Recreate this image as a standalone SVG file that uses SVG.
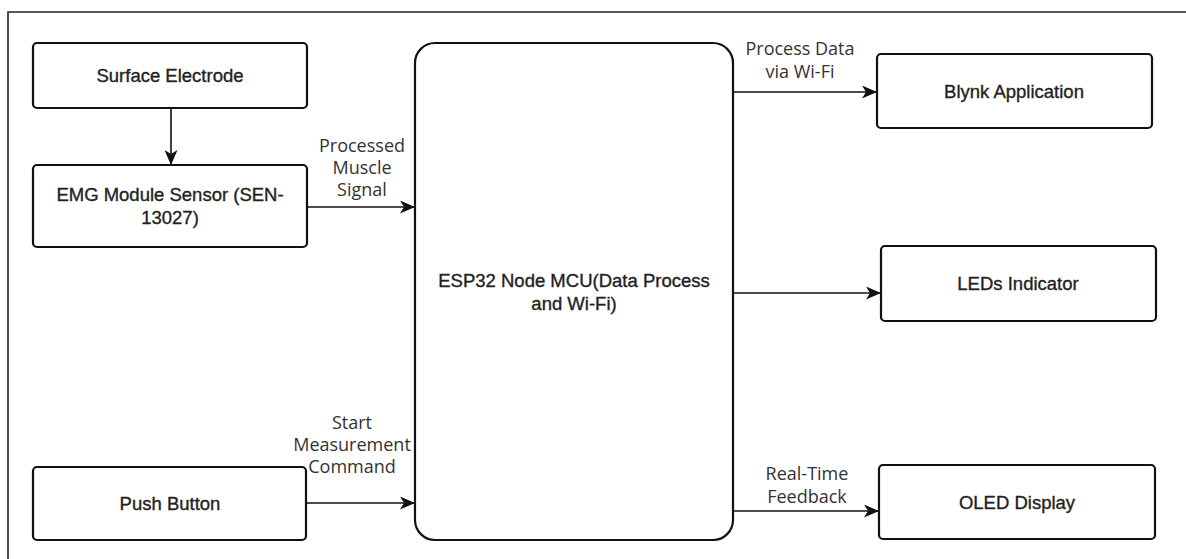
<svg xmlns="http://www.w3.org/2000/svg" width="1186" height="559" viewBox="0 0 1186 559">
<style>
.box{fill:#fff;stroke:#111;stroke-width:2.2}
.nt{font-family:"Liberation Sans",Arial,sans-serif;font-size:18.5px;fill:#222;stroke:#222;stroke-width:0.35;text-anchor:middle}
.lb{font-family:"Open Sans","Noto Sans",sans-serif;font-size:18px;fill:#333;text-anchor:middle}
.ln{stroke:#111;stroke-width:1.6;fill:none}
</style>
<defs>
<marker id="ar" markerWidth="15" markerHeight="13" viewBox="0 0 15 13" refX="14" refY="6.5" orient="auto" markerUnits="userSpaceOnUse">
<path d="M0,0 L15,6.5 L0,13 L4,6.5 Z" fill="#111"/>
</marker>
</defs>
<rect width="1186" height="559" fill="#fff"/>
<path d="M8,559 L8,12 L1186,12" fill="none" stroke="#222" stroke-width="1.6"/>
<g id="surface">
<rect class="box" x="33" y="43" width="274" height="65" rx="4"/>
<text class="nt" x="170" y="82">Surface Electrode</text>
</g>
<g id="emg">
<rect class="box" x="33" y="165" width="274" height="82" rx="4"/>
<text class="nt" x="170" y="201">EMG Module Sensor (SEN-</text>
<text class="nt" x="170" y="224">13027)</text>
</g>
<g id="push">
<rect class="box" x="33" y="467" width="273" height="73" rx="4"/>
<text class="nt" x="170" y="510">Push Button</text>
</g>
<g id="esp32">
<rect class="box" x="415" y="43" width="318" height="497" rx="20"/>
<text class="nt" x="574" y="287">ESP32 Node MCU(Data Process</text>
<text class="nt" x="574" y="310">and Wi-Fi)</text>
</g>
<g id="blynk">
<rect class="box" x="877" y="54" width="275" height="74" rx="4"/>
<text class="nt" x="1014" y="98">Blynk Application</text>
</g>
<g id="leds">
<rect class="box" x="881" y="246" width="275" height="75" rx="4"/>
<text class="nt" x="1018" y="290">LEDs Indicator</text>
</g>
<g id="oled">
<rect class="box" x="879" y="465" width="276" height="74" rx="4"/>
<text class="nt" x="1017" y="509">OLED Display</text>
</g>
<g id="connectors">
<line class="ln" x1="171" y1="108" x2="171" y2="164" marker-end="url(#ar)"/>
<line class="ln" x1="307" y1="207" x2="414" y2="207" marker-end="url(#ar)"/>
<line class="ln" x1="306" y1="503" x2="414" y2="503" marker-end="url(#ar)"/>
<line class="ln" x1="733" y1="92" x2="876" y2="92" marker-end="url(#ar)"/>
<line class="ln" x1="733" y1="293" x2="880" y2="293" marker-end="url(#ar)"/>
<line class="ln" x1="733" y1="511" x2="878" y2="511" marker-end="url(#ar)"/>
<text class="lb" x="362" y="152">Processed</text>
<text class="lb" x="362" y="174">Muscle</text>
<text class="lb" x="362" y="196">Signal</text>
<text class="lb" x="352" y="429">Start</text>
<text class="lb" x="352" y="451">Measurement</text>
<text class="lb" x="352" y="473">Command</text>
<text class="lb" x="800" y="55">Process Data</text>
<text class="lb" x="800" y="78">via Wi-Fi</text>
<text class="lb" x="807" y="480">Real-Time</text>
<text class="lb" x="807" y="503">Feedback</text>
</g>
</svg>
